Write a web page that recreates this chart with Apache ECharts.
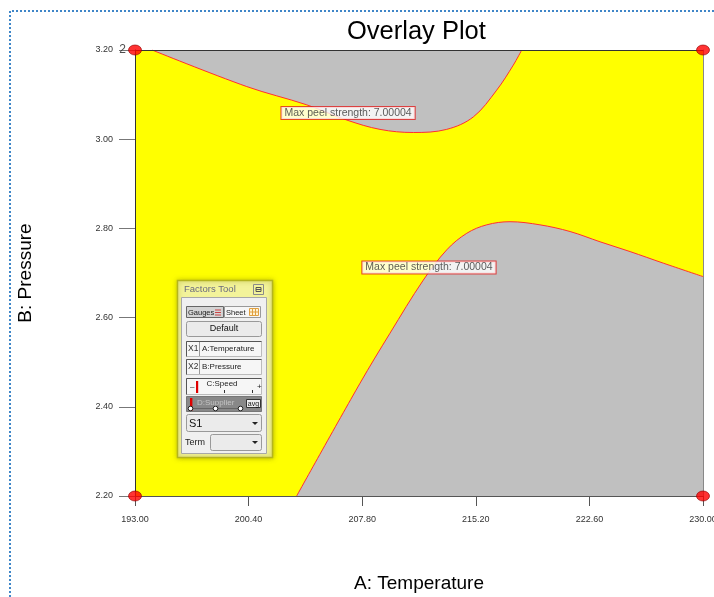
<!DOCTYPE html>
<html>
<head>
<meta charset="utf-8">
<script src="https://cdn.jsdelivr.net/npm/echarts@6/dist/echarts.min.js"></script>
<style>
  html, body { margin: 0; padding: 0; background: #fff; }
  #chart { width: 714px; height: 597px; }
</style>
</head>
<body>
<div id="chart"></div>
<script>
// Axis tick values
const tempTicks = [193.00, 200.40, 207.80, 215.20, 222.60, 230.00];
const pressureTicks = [2.20, 2.40, 2.60, 2.80, 3.00, 3.20];

// Contour where Max peel strength = 7.00004 (upper branch; grey region lies above it)
const upperTemp = [194.11, 200.28, 204.19, 206.79, 208.96, 211.13, 213.30, 215.04, 216.56, 217.64, 218.19];
const upperPressure = [3.200, 3.118, 3.077, 3.043, 3.022, 3.015, 3.022, 3.050, 3.110, 3.166, 3.200];

// Lower branch of the same contour (grey region lies below it)
const lowerTemp = [203.53, 207.66, 209.61, 211.78, 213.31, 214.61, 215.91, 217.43, 219.38, 221.34, 223.29, 225.25, 227.42, 230.00];
const lowerPressure = [2.200, 2.453, 2.565, 2.684, 2.752, 2.789, 2.808, 2.815, 2.808, 2.793, 2.770, 2.748, 2.722, 2.692];

// Design points at the corners and their replicate counts
const designTemp = [193, 230, 193, 230];
const designPressure = [3.2, 3.2, 2.2, 2.2];
const designReplicates = [2, 1, 1, 1];

// Contour flags
const contourLevel = 7.00004;
const flagTemp = [206.88, 212.15];
const flagPressure = [3.0587, 2.7123];

const zip = (xs, ys) => xs.map((x, i) => [x, ys[i]]);
const FONT = 'Liberation Sans, Arial, sans-serif';

// ---- Factors Tool panel ----
function rect(x, y, w, h, style, extra) {
  return Object.assign({ type: 'rect', shape: { x, y, width: w, height: h }, style }, extra || {});
}
function text(x, y, t, size, fill, align, extra) {
  return Object.assign({ type: 'text', style: { x, y, text: t, fontSize: size, fill, fontFamily: FONT, textAlign: align || 'left', textVerticalAlign: 'middle' } }, extra || {});
}
function line(x1, y1, x2, y2, stroke, w) {
  return { type: 'line', shape: { x1, y1, x2, y2 }, style: { stroke, lineWidth: w || 1 } };
}
function tri(cx, cy) {
  return { type: 'polygon', shape: { points: [[cx - 3, cy - 1.5], [cx + 3, cy - 1.5], [cx, cy + 1.5]] }, style: { fill: '#222' } };
}

const panel = [
  rect(177.5, 280.5, 95, 177, { fill: '#f3f39a', stroke: '#b4b41e', lineWidth: 1.5, shadowBlur: 5, shadowColor: 'rgba(150,150,0,0.7)' }),
  text(184, 289, 'Factors Tool', 9.5, '#6a6a7e'),
  rect(253.5, 284.5, 10, 10, { fill: '#f3f39a', stroke: '#8a8a8a' }),
  rect(256, 287.5, 5, 4, { fill: 'none', stroke: '#555' }),
  line(256, 289.5, 261, 289.5, '#555'),
  rect(181.5, 297.5, 85, 156, { fill: '#f0f0f0', stroke: '#a8a8a8' }),
  // Gauges / Sheet toggle
  rect(186.5, 306.5, 37, 11, { fill: '#d4d4d4', stroke: '#666' }),
  text(188, 312.5, 'Gauges', 7.5, '#222'),
  line(215, 310, 221, 310, '#c44'), line(215, 312.5, 221, 312.5, '#c44'), line(215, 315, 221, 315, '#c44'),
  rect(224.5, 306.5, 36, 11, { fill: '#f6f6f6', stroke: '#999' }),
  text(226, 312.5, 'Sheet', 7.5, '#222'),
  rect(249.5, 308.5, 9, 7, { fill: '#fff3d6', stroke: '#e0a040' }),
  line(252.5, 308.5, 252.5, 315.5, '#e0a040'), line(255.5, 308.5, 255.5, 315.5, '#e0a040'), line(249.5, 312, 258.5, 312, '#e0a040'),
  // Default button
  rect(186.5, 321.5, 75, 15, { fill: '#ebebeb', stroke: '#999' }, { shape: { x: 186.5, y: 321.5, width: 75, height: 15, r: 2 } }),
  text(224, 329, 'Default', 9, '#111', 'center'),
  // X1 / X2 rows
  rect(186.5, 341.5, 75, 15, { fill: '#f6f6f6', stroke: '#bbb' }),
  line(186.5, 341.5, 261.5, 341.5, '#555'), line(186.5, 341.5, 186.5, 356.5, '#555'),
  line(199.5, 342, 199.5, 356, '#999'),
  text(188, 349, 'X1', 8.5, '#333'),
  text(202, 349, 'A:Temperature', 8, '#222'),
  rect(186.5, 359.5, 75, 15, { fill: '#f6f6f6', stroke: '#bbb' }),
  line(186.5, 359.5, 261.5, 359.5, '#555'), line(186.5, 359.5, 186.5, 374.5, '#555'),
  line(199.5, 360, 199.5, 374, '#999'),
  text(188, 367, 'X2', 8.5, '#333'),
  text(202, 367, 'B:Pressure', 8, '#222'),
  // C:Speed slider
  rect(186.5, 378.5, 75, 16, { fill: '#f6f6f6', stroke: '#bbb' }),
  line(186.5, 378.5, 261.5, 378.5, '#555'), line(186.5, 378.5, 186.5, 394.5, '#555'),
  text(190, 387, '–', 8, '#222'),
  text(257, 387, '+', 8, '#222'),
  text(222, 384, 'C:Speed', 8, '#222', 'center'),
  rect(196, 381, 2.2, 12, { fill: '#e00000' }),
  line(224.5, 390, 224.5, 393, '#333'), line(252.5, 390, 252.5, 393, '#333'),
  // D:Supplier slider
  rect(186.5, 396.5, 75, 15, { fill: '#888888', stroke: '#777' }),
  text(197, 403, 'D:Supplier', 8, '#c4c4c4'),
  line(190, 408.5, 240, 408.5, '#666'),
  rect(190, 398, 2.4, 13, { fill: '#e00000' }),
  { type: 'circle', shape: { cx: 190.5, cy: 408.5, r: 2.3 }, style: { fill: '#fff', stroke: '#222' } },
  { type: 'circle', shape: { cx: 215.5, cy: 408.5, r: 2.3 }, style: { fill: '#fff', stroke: '#222' } },
  { type: 'circle', shape: { cx: 240.5, cy: 408.5, r: 2.3 }, style: { fill: '#fff', stroke: '#222' } },
  rect(246.5, 399.5, 14, 8, { fill: '#eee', stroke: '#333' }),
  text(253.5, 403.7, 'avg', 7, '#111', 'center'),
  // S1 dropdown
  rect(186.5, 414.5, 75, 17, { fill: '#ebebeb', stroke: '#999' }, { shape: { x: 186.5, y: 414.5, width: 75, height: 17, r: 2 } }),
  text(189, 423.5, 'S1', 11, '#111'),
  tri(255, 423.5),
  // Term dropdown
  text(185, 442.5, 'Term', 9, '#222'),
  rect(210.5, 434.5, 51, 16, { fill: '#ebebeb', stroke: '#999' }, { shape: { x: 210.5, y: 434.5, width: 51, height: 16, r: 2 } }),
  tri(255, 442.5)
];

const chart = echarts.init(document.getElementById('chart'), null, { renderer: 'canvas' });

const option = {
  animation: false,
  backgroundColor: '#ffffff',
  title: {
    text: 'Overlay Plot',
    left: 342,
    top: 14,
    textStyle: { fontSize: 25.5, fontWeight: 'normal', color: '#000', fontFamily: FONT }
  },
  grid: {
    left: 135, right: 11, top: 50, bottom: 101,
    outerBoundsMode: 'none', containLabel: false,
    show: true, backgroundColor: '#ffff00', borderWidth: 0
  },
  xAxis: [{
    type: 'value', min: 193, max: 230, position: 'bottom', z: 5,
    name: 'A: Temperature', nameLocation: 'middle', nameGap: 78,
    nameTextStyle: { fontSize: 19, color: '#000', fontFamily: FONT },
    axisLine: { show: true, onZero: false, lineStyle: { color: '#555', width: 1 } },
    axisTick: { show: true, length: 10, customValues: tempTicks, lineStyle: { color: '#555' } },
    axisLabel: { customValues: tempTicks, formatter: v => v.toFixed(2), fontSize: 9, color: '#333', margin: 19, fontFamily: FONT },
    splitLine: { show: false }
  }, {
    type: 'value', min: 193, max: 230, position: 'top', z: 5,
    axisLine: { show: true, onZero: false, lineStyle: { color: '#333', width: 1 } },
    axisTick: { show: false }, axisLabel: { show: false }, splitLine: { show: false }
  }],
  yAxis: [{
    type: 'value', min: 2.2, max: 3.2, position: 'left', z: 5,
    name: 'B: Pressure', nameLocation: 'middle', nameRotate: 90, nameGap: 100,
    nameTextStyle: { fontSize: 19, color: '#000', fontFamily: FONT },
    axisLine: { show: true, onZero: false, lineStyle: { color: '#333', width: 1 } },
    axisTick: { show: true, length: 16, customValues: pressureTicks, lineStyle: { color: '#777' } },
    axisLabel: { customValues: pressureTicks, formatter: v => v.toFixed(2), fontSize: 9, color: '#333', margin: 22, fontFamily: FONT },
    splitLine: { show: false }
  }, {
    type: 'value', min: 2.2, max: 3.2, position: 'right', z: 5,
    axisLine: { show: true, onZero: false, lineStyle: { color: '#888', width: 1 } },
    axisTick: { show: false }, axisLabel: { show: false }, splitLine: { show: false }
  }],
  series: [{
    name: 'upper',
    type: 'line', smooth: 0.35, symbol: 'none', z: 2,
    data: zip(upperTemp, upperPressure),
    lineStyle: { color: '#ff3030', width: 1 },
    areaStyle: { color: '#c0c0c0', opacity: 1, origin: 'end' }
  }, {
    name: 'lower',
    type: 'line', smooth: 0.35, symbol: 'none', z: 2,
    data: zip(lowerTemp, lowerPressure),
    lineStyle: { color: '#ff3030', width: 1 },
    areaStyle: { color: '#c0c0c0', opacity: 1, origin: 'start' }
  }, {
    name: 'flags',
    type: 'scatter', symbolSize: 0, z: 8, silent: true,
    data: zip(flagTemp, flagPressure),
    label: {
      show: true, position: 'inside',
      formatter: () => 'Max peel strength: ' + contourLevel.toFixed(5),
      fontSize: 10.5, color: '#333', fontFamily: FONT,
      backgroundColor: '#ffffff', borderColor: '#e02020', borderWidth: 1, padding: [1, 3, 0, 3]
    }
  }, {
    name: 'design',
    type: 'scatter', symbol: 'circle', symbolSize: [13, 10], z: 10, clip: false,
    data: designTemp.map((t, i) => [t, designPressure[i], designReplicates[i]]),
    itemStyle: { color: '#ff0000', borderColor: '#900000', borderWidth: 0.8 },
    label: {
      show: true, position: 'left', distance: 2,
      formatter: p => (p.value[2] > 1 ? String(p.value[2]) : ''),
      fontSize: 12, color: '#222', fontFamily: FONT
    }
  }],
  graphic: [
    {
      type: 'polyline', z: 100,
      shape: { points: [[10, 597], [10, 11], [714, 11]] },
      style: { stroke: '#3f86c8', lineWidth: 2, lineDash: [2, 2], fill: 'none' }
    },
    { type: 'group', z: 50, children: panel }
  ]
};

chart.setOption(option);
</script>
</body>
</html>
